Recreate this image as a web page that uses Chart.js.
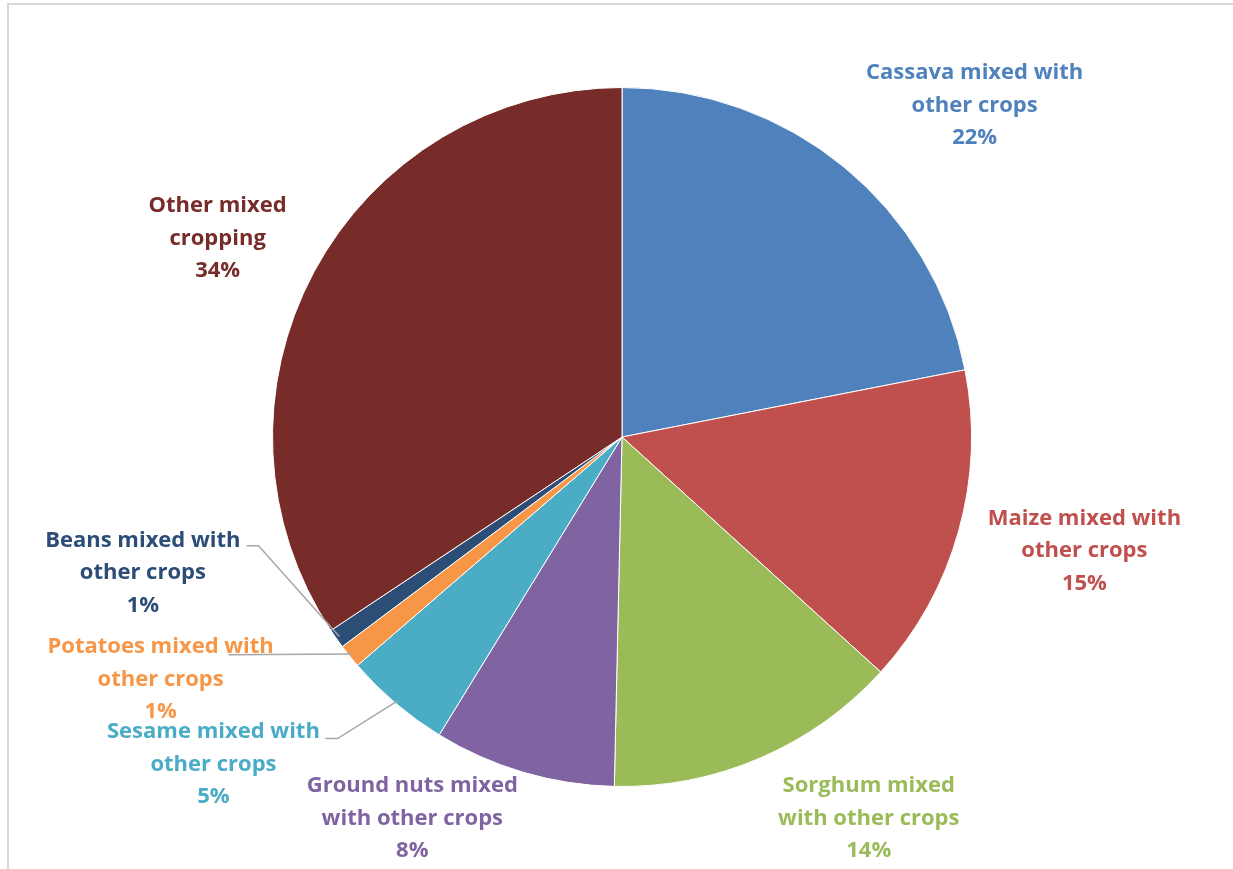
<!DOCTYPE html>
<html>
<head>
<meta charset="utf-8">
<script src="https://cdn.jsdelivr.net/npm/chart.js@4"></script>
<style>
  html, body { margin: 0; padding: 0; background: #fff; }
  #frame {
    position: absolute; left: 7px; top: 3px; width: 1240px; height: 880px;
    border-top: 2px solid #d9d9d9; border-left: 2px solid #d9d9d9;
  }
  #wrap { position: absolute; left: 0; top: 0; width: 1233px; height: 869px; }
</style>
</head>
<body>
<div id="frame"></div>
<div id="wrap"><canvas id="pie"></canvas></div>
<script>
// Crop shares (label text shows rounded %)
const categories = [
  'Cassava mixed with other crops',
  'Maize mixed with other crops',
  'Sorghum mixed with other crops',
  'Ground nuts mixed with other crops',
  'Sesame mixed with other crops',
  'Potatoes mixed with other crops',
  'Beans mixed with other crops',
  'Other mixed cropping',
];
const shares = [21.9, 14.8, 13.6, 8.4, 4.9, 1.1, 0.9, 34.3];
const labelLines = [
  ['Cassava mixed with', 'other crops'],
  ['Maize mixed with', 'other crops'],
  ['Sorghum mixed', 'with other crops'],
  ['Ground nuts mixed', 'with other crops'],
  ['Sesame mixed with', 'other crops'],
  ['Potatoes mixed with', 'other crops'],
  ['Beans mixed with', 'other crops'],
  ['Other mixed', 'cropping'],
];
const colors = ['#4F81BD', '#C0504D', '#9BBB59', '#8064A2', '#4BACC6', '#F79646', '#2C4D75', '#772C2A'];

// where each label block sits, in units of the pie radius from its centre
const labelPos = [
  [1.009, -0.949], [1.323, 0.326], [0.706, 1.092], [-0.60, 1.092],
  [-1.169, 0.937], [-1.32, 0.694], [-1.371, 0.389], [-1.157, -0.568],
];
// leader line start (radius units) for the small slices, null = no leader
const leaderStart = [null, null, null, null,
  [[-0.849, 0.863], [-0.814, 0.863]],
  [[-1.126, 0.623]],
  [[-1.074, 0.311], [-1.040, 0.311]],
  null];

const LINE_H = 32.5;
const FONT = 'bold 22px "Open Sans", "Noto Sans", sans-serif';

const labelPlugin = {
  id: 'outsideLabels',
  afterDraw(chart) {
    const ctx = chart.ctx;
    const meta = chart.getDatasetMeta(0);
    const total = shares.reduce((a, b) => a + b, 0);
    ctx.save();
    meta.data.forEach((arc, i) => {
      const { x: cx, y: cy, outerRadius: r, startAngle, endAngle } = arc.getProps(['x', 'y', 'outerRadius', 'startAngle', 'endAngle'], true);

      // leader line into the middle of the slice edge
      if (leaderStart[i]) {
        const mid = (startAngle + endAngle) / 2;
        ctx.strokeStyle = '#A6A6A6';
        ctx.lineWidth = 1.5;
        ctx.beginPath();
        leaderStart[i].forEach((p, k) => {
          const px = cx + p[0] * r, py = cy + p[1] * r;
          k === 0 ? ctx.moveTo(px, py) : ctx.lineTo(px, py);
        });
        ctx.lineTo(cx + Math.cos(mid) * r * 0.99, cy + Math.sin(mid) * r * 0.99);
        ctx.stroke();
      }

      const lx = cx + labelPos[i][0] * r;
      const ly = cy + labelPos[i][1] * r;
      const lines = labelLines[i].concat([Math.round(shares[i] / total * 100) + '%']);
      ctx.font = FONT;
      ctx.fillStyle = colors[i];
      ctx.textAlign = 'center';
      ctx.textBaseline = 'middle';
      lines.forEach((t, k) => {
        ctx.fillText(t, lx, ly + (k - 1) * LINE_H);
      });
    });
    ctx.restore();
  },
};

new Chart(document.getElementById('pie'), {
  type: 'pie',
  data: {
    labels: categories,
    datasets: [{
      data: shares,
      backgroundColor: colors,
      borderColor: '#ffffff',
      borderWidth: 1,
    }],
  },
  options: {
    responsive: true,
    maintainAspectRatio: false,
    animation: false,
    layout: { padding: { left: 272, right: 261, top: 87, bottom: 82 } },
    plugins: {
      legend: { display: false },
      tooltip: { enabled: false },
    },
  },
  plugins: [labelPlugin],
});
</script>
</body>
</html>
